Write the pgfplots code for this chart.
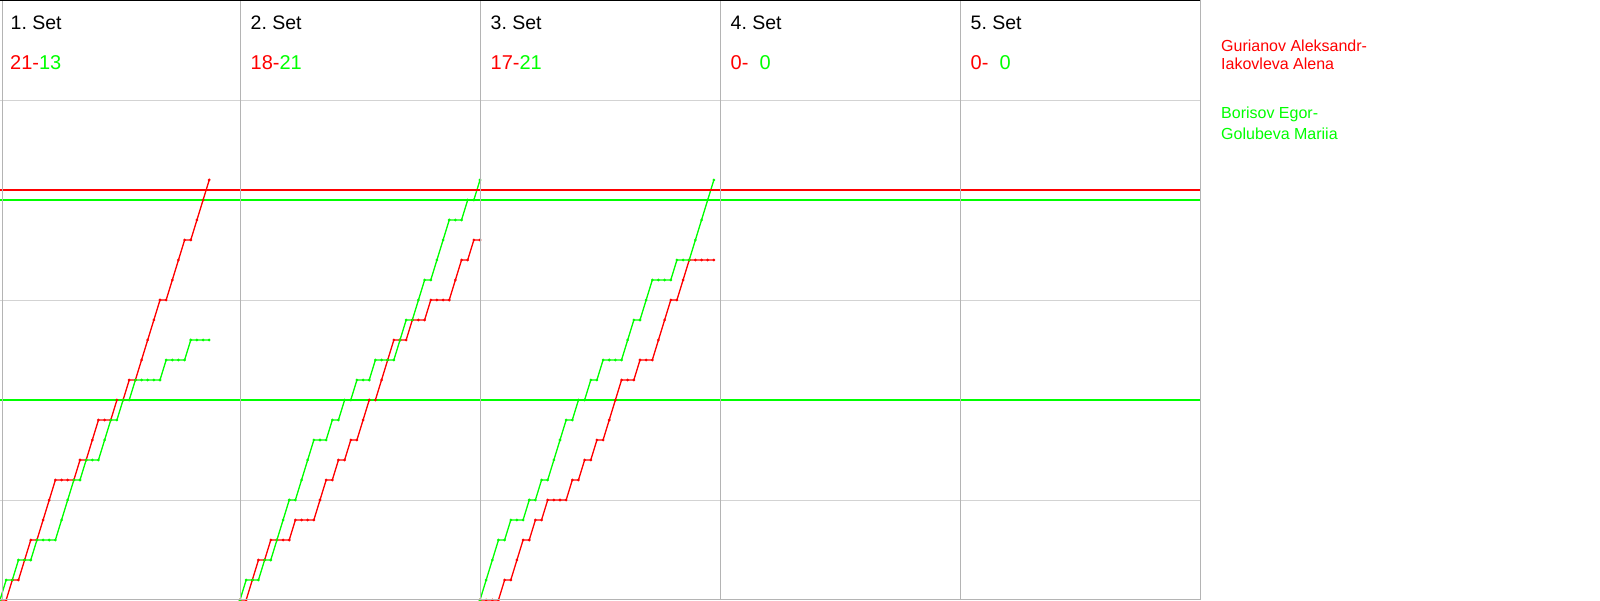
\documentclass[border=0pt]{standalone}
\usepackage{pgfplots}
\pgfplotsset{compat=1.18}
\usepackage{fontspec}
\setmainfont{Liberation Sans}
\definecolor{pr}{RGB}{255,0,0}
\definecolor{pg}{RGB}{0,255,0}
\definecolor{vgrid}{RGB}{180,180,180}
\definecolor{hgrid}{RGB}{211,211,211}
\pgfplotsset{
  setpanel/.style={
    width=240pt, height=600pt, scale only axis,
    xmin=0, xmax=39, ymin=0, ymax=30, enlargelimits=false,
    axis line style={draw=none},
    xtick=\empty, ytick={5,15,25}, yticklabels={},
    tick style={draw=none},
    ymajorgrids, major grid style={color=hgrid, line width=0.8pt},
  },
  rline/.style={color=pr, line width=1.3pt, mark=*, mark size=0.6pt, mark options={solid}},
  gline/.style={color=pg, line width=1.3pt, mark=*, mark size=0.6pt, mark options={solid}},
}
\newcommand{\refl}{%
  \addplot[color=pg, line width=1.3pt, mark=none] coordinates {(0,10) (39,10)};
  \addplot[color=pg, line width=1.3pt, mark=none] coordinates {(0,20) (39,20)};
  \addplot[color=pr, line width=1.3pt, mark=none] coordinates {(0,20.5) (39,20.5)};
}
\begin{document}
\begin{tikzpicture}[x=1pt,y=1pt]
\useasboundingbox (0,0) rectangle (1600,600);
% Set 1
\begin{axis}[setpanel, at={(0pt,0pt)}, anchor=origin]
\addplot[rline] coordinates {(0,0)(1,0)(2,1)(3,1)(4,2)(5,3)(6,3)(7,4)(8,5)(9,6)(10,6)(11,6)(12,6)(13,7)(14,7)(15,8)(16,9)(17,9)(18,9)(19,10)(20,10)(21,11)(22,11)(23,12)(24,13)(25,14)(26,15)(27,15)(28,16)(29,17)(30,18)(31,18)(32,19)(33,20)(34,21)};
\addplot[gline] coordinates {(0,0)(1,1)(2,1)(3,2)(4,2)(5,2)(6,3)(7,3)(8,3)(9,3)(10,4)(11,5)(12,6)(13,6)(14,7)(15,7)(16,7)(17,8)(18,9)(19,9)(20,10)(21,10)(22,11)(23,11)(24,11)(25,11)(26,11)(27,12)(28,12)(29,12)(30,12)(31,13)(32,13)(33,13)(34,13)};
\refl
\end{axis}
% Set 2
\begin{axis}[setpanel, at={(240pt,0pt)}, anchor=origin]
\addplot[rline] coordinates {(0,0)(1,0)(2,1)(3,2)(4,2)(5,3)(6,3)(7,3)(8,3)(9,4)(10,4)(11,4)(12,4)(13,5)(14,6)(15,6)(16,7)(17,7)(18,8)(19,8)(20,9)(21,10)(22,10)(23,11)(24,12)(25,13)(26,13)(27,13)(28,14)(29,14)(30,14)(31,15)(32,15)(33,15)(34,15)(35,16)(36,17)(37,17)(38,18)(39,18)};
\addplot[gline] coordinates {(0,0)(1,1)(2,1)(3,1)(4,2)(5,2)(6,3)(7,4)(8,5)(9,5)(10,6)(11,7)(12,8)(13,8)(14,8)(15,9)(16,9)(17,10)(18,10)(19,11)(20,11)(21,11)(22,12)(23,12)(24,12)(25,12)(26,13)(27,14)(28,14)(29,15)(30,16)(31,16)(32,17)(33,18)(34,19)(35,19)(36,19)(37,20)(38,20)(39,21)};
\refl
\end{axis}
% Set 3
\begin{axis}[setpanel, at={(480pt,0pt)}, anchor=origin]
\addplot[rline] coordinates {(0,0)(1,0)(2,0)(3,0)(4,1)(5,1)(6,2)(7,3)(8,3)(9,4)(10,4)(11,5)(12,5)(13,5)(14,5)(15,6)(16,6)(17,7)(18,7)(19,8)(20,8)(21,9)(22,10)(23,11)(24,11)(25,11)(26,12)(27,12)(28,12)(29,13)(30,14)(31,15)(32,15)(33,16)(34,17)(35,17)(36,17)(37,17)(38,17)};
\addplot[gline] coordinates {(0,0)(1,1)(2,2)(3,3)(4,3)(5,4)(6,4)(7,4)(8,5)(9,5)(10,6)(11,6)(12,7)(13,8)(14,9)(15,9)(16,10)(17,10)(18,11)(19,11)(20,12)(21,12)(22,12)(23,12)(24,13)(25,14)(26,14)(27,15)(28,16)(29,16)(30,16)(31,16)(32,17)(33,17)(34,17)(35,18)(36,19)(37,20)(38,21)};
\refl
\end{axis}
% Set 4
\begin{axis}[setpanel, at={(720pt,0pt)}, anchor=origin]
\refl
\end{axis}
% Set 5
\begin{axis}[setpanel, at={(960pt,0pt)}, anchor=origin]
\refl
\end{axis}
% frame
\draw[vgrid, line width=1pt] (2.7,0) -- (2.7,600);
\foreach \xx in {240.5,480.5,720.5,960.5,1200.3} {\draw[vgrid, line width=1pt] (\xx,0) -- (\xx,600);}
\draw[vgrid, line width=1pt] (0,0.6) -- (1200.3,0.6);
\draw[black, line width=1.5pt] (0,599.3) -- (1200.3,599.3);
% titles
\foreach \k in {1,...,5} {
  \node[anchor=base west, inner sep=0pt, font=\fontsize{19.5}{23}\selectfont] at ({240*(\k-1)+10.5},570) {\k.\ Set};
}
\node[anchor=base west, inner sep=0pt, font=\fontsize{20}{24}\selectfont] at (10,530.5) {\textcolor{pr}{21-}\textcolor{pg}{13}};
\node[anchor=base west, inner sep=0pt, font=\fontsize{20}{24}\selectfont] at (250.5,530.5) {\textcolor{pr}{18-}\textcolor{pg}{21}};
\node[anchor=base west, inner sep=0pt, font=\fontsize{20}{24}\selectfont] at (490.5,530.5) {\textcolor{pr}{17-}\textcolor{pg}{21}};
\node[anchor=base west, inner sep=0pt, font=\fontsize{20}{24}\selectfont] at (730.5,530.5) {\textcolor{pr}{0-}\phantom{0}\textcolor{pg}{0}};
\node[anchor=base west, inner sep=0pt, font=\fontsize{20}{24}\selectfont] at (970.5,530.5) {\textcolor{pr}{0-}\phantom{0}\textcolor{pg}{0}};
% legend
\begin{scope}[every node/.style={anchor=base west, inner sep=0pt, font=\fontsize{16}{19}\selectfont}]
\node[text=pr] at (1221,548.3) {Gurianov Aleksandr-};
\node[text=pr] at (1221,530.2) {Iakovleva Alena};
\node[text=pg] at (1221,481) {Borisov Egor-};
\node[text=pg] at (1221,460.5) {Golubeva Mariia};
\end{scope}
\end{tikzpicture}
\end{document}
